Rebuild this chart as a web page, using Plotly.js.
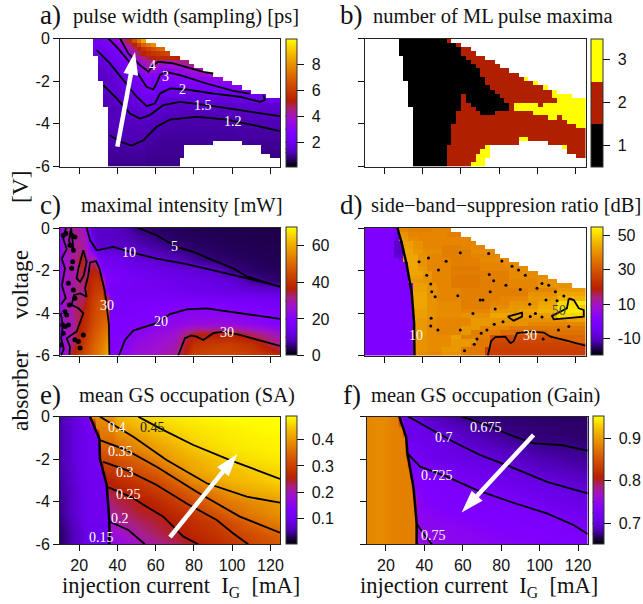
<!DOCTYPE html>
<html><head><meta charset="utf-8">
<script src="https://cdn.plot.ly/plotly-3.0.1.min.js"></script>
<style>html,body{margin:0;padding:0;background:#fff}</style></head>
<body><div id="chart" style="width:643px;height:604px"></div>
<script>
// ---------- shared tick labels ----------
const xTicks=[20,40,60,80,100,120];
const yTicks=[0,-2,-4,-6];
const yTickText=['0','-2','-4','-6'];

// ---------- panel a: pulse width, "value:endColumn" runs on the 46x30 simulation grid ----------
const aRows=[
"n:7 2.3:9 2.6:10 2.9:11 3.3:12 3.7:13 4.5:14 5.5:15 6.5:16 7.5:17 8.5:18 n:46",
"n:7 2.2:9 2.4:10 2.6:11 2.9:12 3.3:13 3.9:14 4.6:15 5.3:16 6.2:17 7:18 7.5:19 8:20 n:46",
"n:7 2:8 2.1:9 2.2:10 2.4:11 2.6:12 2.9:13 3.4:14 4:15 4.6:16 5.2:17 5.8:18 6.2:19 6.6:20 7:21 7.2:22 n:46",
"n:7 1.8:8 1.9:9 2:10 2.2:11 2.4:12 2.6:13 3:14 3.6:15 4.2:16 4.8:17 5.3:18 5.6:19 5.8:20 6:21 6.2:22 6.3:23 n:46",
"n:8 1.75:9 1.9:10 2:11 2.2:12 2.4:13 2.7:14 3.1:15 3.6:16 4.1:17 4.6:18 5:19 5.3:20 5.5:23 5.4:24 5.3:25 n:46",
"n:8 1.6:9 1.75:10 1.95:11 2.1:12 2.3:13 2.5:14 2.8:15 3.1:16 3.5:17 4:18 4.3:19 4.5:20 4.3:21 4.2:23 4.3:24 4.4:25 4.5:26 4.6:27 n:46",
"n:8 1.5:9 1.65:10 1.8:11 1.95:12 2.1:13 2.3:14 2.5:15 2.8:16 3.1:17 3.6:18 4.1:20 3.8:21 3.6:22 3.7:23 3.8:24 3.9:25 4:26 4.2:27 4.4:28 n:46",
"n:8 1.45:9 1.55:10 1.7:11 1.8:12 1.95:13 2.1:14 2.3:15 2.5:16 3:17 3.4:18 3.9:19 3.6:20 3.3:21 3.1:22 3.05:23 3.2:24 3.4:25 3.5:26 3.6:27 3.7:28 3.9:29 4.1:30 n:46",
"n:8 1.4:9 1.5:10 1.6:11 1.7:12 1.85:13 2:14 2.15:15 2.3:16 2.6:17 3:18 3.2:19 3:20 2.9:22 2.95:23 3:24 3.05:25 3.2:26 3.3:27 3.4:28 3.5:29 3.6:30 3.7:31 3.8:32 n:46",
"n:8 1.35:9 1.45:10 1.5:11 1.6:12 1.75:13 1.9:14 2.05:15 2.25:16 2.5:17 2.8:18 2.85:19 2.7:21 2.8:24 2.85:25 2.9:27 3.05:29 3.2:31 3.3:34 n:46",
"n:9 1.45:10 1.55:11 1.65:12 1.75:13 1.85:14 2:15 2.2:16 2.4:17 2.7:18 2.9:19 2.5:20 2.55:21 2.65:26 2.75:30 2.95:31 3.05:34 3.2:36 n:46",
"n:9 1.45:10 1.55:11 1.6:12 1.7:13 1.8:14 1.9:15 2.1:16 2.3:17 2.6:18 3:19 2.6:20 2.3:22 2.4:28 2.5:33 2.7:36 2.9:38 n:46",
"n:9 1.4:10 1.5:11 1.55:12 1.65:13 1.75:14 1.85:15 2:16 2.2:17 2.4:18 2.6:19 2.5:20 2.1:21 1.95:29 2.05:34 2.2:38 2.5:40 n:46",
"n:9 1.3:10 1.4:11 1.5:12 1.55:13 1.65:14 1.75:15 1.85:16 2:17 2.15:18 2.3:19 2.2:20 2:21 1.85:24 1.8:30 1.9:36 2:39 2.1:43 n:46",
"n:9 1.25:10 1.35:11 1.45:12 1.5:13 1.6:14 1.7:15 1.8:16 1.9:17 2.05:18 2.1:19 1.9:20 1.8:21 1.65:22 1.6:26 1.65:36 1.8:41 1.95:46",
"n:9 1.25:10 1.3:11 1.4:12 1.45:13 1.5:14 1.6:15 1.7:16 1.8:17 1.95:19 1.8:20 1.65:21 1.5:22 1.45:30 1.5:37 1.6:46",
"n:10 1.25:12 1.3:13 1.45:14 1.55:15 1.6:16 1.7:17 1.75:18 1.7:19 1.65:20 1.55:21 1.45:22 1.35:30 1.4:38 1.5:46",
"n:10 1.28:12 1.35:13 1.4:14 1.5:16 1.55:19 1.5:21 1.4:22 1.33:25 1.28:32 1.3:40 1.4:46",
"n:10 1.27:12 1.32:14 1.42:16 1.52:19 1.42:20 1.32:22 1.26:26 1.2:33 1.23:39 1.32:46",
"n:10 1.3:14 1.35:18 1.3:20 1.22:22 1.15:37 1.22:46",
"n:10 1.27:14 1.3:18 1.25:20 1.15:24 1.12:37 1.15:40 1.22:46",
"n:10 1.24:15 1.27:19 1.15:22 1.1:37 1.13:45 1.2:46",
"n:10 1.22:12 1.24:18 1.15:21 1.08:37 1.1:46",
"n:10 1.18:11 1.22:18 1.12:21 1.05:46",
"n:10 1.15:13 1.2:17 1.1:20 1.02:32 n:38 1:46",
"n:10 1.1:14 1.15:18 1.05:21 1:26 n:42 .98:46",
"n:10 1.06:14 1.08:18 1:26 n:42 .95:46",
"n:10 1.02:18 .98:26 n:44 .92:46",
"n:10 1:18 .95:25 n:46",
"n:10 .97:18 .92:25 n:46"];
const aC12=[[36.1,41.4,47.5,53.6,60.5,67.5,81.4,97.1,111,125],[-4.53,-4.84,-5.02,-4.77,-4.14,-3.8,-3.67,-3.8,-4.06,-4.34]];
const aC15=[[32.6,39.6,46.6,51.8,57,64,72.7,86.6,104,125],[-2.19,-2.81,-3.52,-3.75,-3.59,-3.12,-2.97,-3.12,-3.36,-3.64]];
const aC2=[[29.2,36.1,43.1,50.1,55.3,59.6,62.3,67.5,76.2,90.1,104,114.5,117.1,116.3],[-.55,-1.17,-1.95,-2.73,-3.17,-3.05,-2.58,-2.34,-2.39,-2.58,-2.73,-2.97,-2.89,-2.66]];
const aC3=[[35.3,39.6,44.8,50.1,55.3,58.8,60.5,62.3,64.9,72.7,86.6,100.5,109.2],[0,-.39,-.94,-1.56,-2.27,-2.39,-2.1,-1.72,-1.56,-1.72,-2.11,-2.45,-2.58]];
const aC4=[[41.4,45.7,51.8,56.2,58.8,61.4,69.2,77.9,84.9,90.1],[0,-.7,-1.25,-1.56,-1.25,-1.09,-1.17,-1.4,-1.56,-1.64]];

// ---------- panel b: number of maxima ----------
const bRows=[
"n:7 1:17 2:18 n:46","n:7 1:19 2:20 n:46","n:7 1:20 2:22 n:46","n:7 1:20 2:23 n:46","n:8 1:21 2:25 n:46",
"n:8 1:22 2:27 n:46","n:8 1:23 2:28 n:46","n:8 1:24 2:30 n:46","n:8 1:24 2:32 n:46","n:8 1:25 2:33 3:34 n:46",
"n:9 1:25 2:35 3:36 n:46","n:9 1:26 2:37 3:38 n:46","n:9 1:27 2:39 3:40 n:46","n:9 1:20 2:21 1:28 2:39 3:43 n:46",
"n:9 1:20 2:21 1:29 2:40 3:46","n:9 1:20 2:22 1:30 2:31 3:36 2:37 3:46","n:10 1:20 2:23 1:30 2:31 3:46",
"n:10 1:19 2:24 1:27 2:35 3:46","n:10 1:19 2:38 3:40 2:41 3:46","n:10 1:19 2:42 3:46","n:10 1:18 2:44 3:46",
"n:10 1:18 2:46","n:10 1:18 2:46","n:10 1:18 2:32 3:34 2:46","n:10 1:18 2:32 n:38 2:46",
"n:10 1:17 2:25 3:26 n:41 3:42 2:46","n:10 1:17 2:24 3:26 n:42 2:46","n:10 1:17 2:23 3:26 n:44 2:46",
"n:10 1:17 2:23 3:25 n:46","n:10 1:17 2:22 3:25 n:46"];

// ---------- panel c: maximal intensity ----------
const cX=[10,12,14,16,18,20,22,24,26,28,30,32,34,35,36,37,40,45,50,60,70,80,90,100,110,125];
const cY=[0,-.5,-1,-1.5,-2,-2.5,-3,-3.5,-4,-4.5,-5,-5.5,-6];
const cZ=[
[22,28,29,30,30,29,28,22,10.5,10,9.5,9.2,9,9,9,8.8,8.5,7.5,5.1,4.2,3.8,3.6,3.5,3.4,3.3,3.2],
[21,27,29,30,30,30,29,26,15,11,10,9.5,9.5,9.5,9.5,9.3,9,8.3,7.2,5.4,4.4,4,3.8,3.6,3.4,3.3],
[21,26,29,29,30,31,30,27,20,14,10.5,10.2,10,10,10,10,10,9.7,8.8,7.5,5.6,4.7,4.2,3.9,3.7,3.5],
[21,26,28,29,30,35,36,28,30,32,17,15.5,15,15,15,14.6,14,12.5,11.5,10.2,8.8,6.5,5,4.4,4,3.6],
[22,27,29,29,29,33,35,29,36,37,36,17.5,17,17,17,16.8,16.5,15.5,14.5,13,12,11,10.1,5.8,4.6,3.9],
[22,27,28,29,30,32,32,35,38,39,40,38,19,18.5,18.5,18,17.5,16.5,16,14.8,13.8,12.8,12,10.8,6.5,4.4],
[23,27,28,28,31,32,30,36,39,41,42,43,21,20,16,16,16,16,16,16,15,14,13.2,12.5,12,11.5],
[23,27,29,28,31,33,33,38,41,43,45,46,47,46,16.5,16.5,17,17,17.5,18,18,18,18,17.5,17,15],
[22,28,29,28,33,32,37,39,42,44,46,47,48,47,17,17,17,17.5,18,19,20.3,21,21,20.4,19.6,18.5],
[22,27,28,28,31,35,38,40,43,45,47,49,50,50,18.5,18.5,18.5,19,19.5,20,22.5,24,24.5,24.5,22,19],
[20,26,28,29,32,37,39,42,45,47,49,51,53,53,19,19,19,19.5,21.5,24,26.5,36,36,36.5,33,27],
[21,25,28,31,35,38,41,44,47,49,51,53,56,57,19,19,19.5,21,24,26,28.5,40,42,42,40,31],
[20,25,29,34,38,41,44,46,48,50,52,55,58,60,19,19,19.7,23,26,27.5,30,43,44,44,42,39]];
const cC5=[[50.9,60.5,71,79.7,90.1,100.6,107.5,118,125],[0,-.34,-.89,-1.125,-1.52,-1.9,-2.27,-2.58,-2.77]];
const cC10=[[24,25.7,29.2,30.9,37.9,48.3,60.5,76.2,91.9,107.5,125],[0,-.58,-1.05,-1.02,-.89,-1.17,-1.44,-1.7,-2.02,-2.36,-2.75]];
const cC20=[[40.8,44,48.3,60.5,67.5,76.2,86.6,104,125],[-6,-5.27,-4.83,-4.48,-4.05,-3.83,-3.78,-4.02,-4.28]];
const cC30a=[[71.8,75.3,78.8,81.4,84.9,90.1,95.4,104,116.3,125],[-6,-5.19,-5.06,-5.11,-5.27,-4.95,-4.88,-5.03,-5.34,-5.55]];
const cC30b=[[35.8,35.6,33.5,30.6,28.8,25.7,24.8,23.1,23.9,20.5,17.3,16.1,19.6,22.2,18.7,13.5,15.2,14.9],[-5.97,-4.56,-3,-1.9,-1.56,-1.62,-2.22,-2.84,-3.23,-3.08,-3.16,-3.62,-3.78,-4.01,-4.87,-5.19,-5.58,-5.97]];
const cC30c=[[19.6,22.2,23.9,22.5,20.5,18.7,19.6],[-1.9,-1.05,-1.59,-2.22,-2.53,-2.37,-1.9]];
const cC30d=[[13.1,11.7,13.5,10.9,12.6,11,13,10.5],[0,-.5,-1,-1.44,-1.9,-2.7,-3.3,-3.6]];
const cC30e=[[15.8,14.7,17.2,16.1,15.8],[0,-.6,-1.1,-.4,0]];
const cC30f=[[10.4,11.5,10.6,12,10.6],[-4,-4.6,-5.2,-5.7,-6]];
const cDotsX=[11.7,13.1,16.1,17.8,15.2,17,16.6,16.1,14.4,17,17.8,14.9,12.6,13.5,11.4,12.6,14.4,17.8,19.6,11.7,10.5,22.2,20.5];
const cDotsY=[-.34,-.26,-.34,-.42,-.81,-1.05,-1.59,-1.9,-2.6,-2.92,-3.31,-3.62,-3.94,-4.09,-4.56,-4.64,-4.56,-5.26,-5.34,-4.95,-5.5,-5.03,-5.65];

// ---------- panel d: side-band suppression, runs on the same grid ----------
const dRows=[
"0:6 -1:7 38:9 37:14 38:18 n:46",
"0:6 -4:7 40:9 38:13 38:17 37:20 n:46",
"0:6 -6:7 41:9 39:11 38:17 38:22 n:46",
"0:6 -9:8 42:10 40:12 38:15 38:20 38:23 n:46",
"0:6 -9:8 42:10 40:12 38:16 37:20 38:25 n:46",
"0:6 -10:8 43:10 41:12 39:16 37:22 39:27 n:46",
"0:6 -8:8 43:11 40:13 38:16 37:22 38:28 n:46",
"0:7 -5:8 43:11 40:13 38:18 37:24 39:30 n:46",
"0:9 43:11 40:13 38:18 37:24 38:29 39:32 n:46",
"0:9 43:11 41:13 38:18 36:24 38:30 39:34 n:46",
"0:9 43:12 41:14 38:18 37:24 37:30 39:36 n:46",
"0:9 42:12 40:14 38:18 36:24 37:30 39:38 n:46",
"0:9 41:12 40:14 38:18 36:24 37:30 38:36 40:40 n:46",
"0:10 42:13 40:15 38:18 36:24 37:30 38:36 40:43 n:46",
"0:10 42:13 40:15 38:20 37:28 37:34 38:40 41:46",
"0:10 43:13 40:15 38:20 37:28 37:34 40:40 43:46",
"0:10 43:13 40:15 38:20 37:28 38:34 41:40 45:46",
"0:10 43:13 40:15 39:20 37:26 38:30 40:36 43:40 50:44 52:46",
"0:10 43:13 40:15 39:20 37:26 39:30 41:36 44:40 51:45 48:46",
"0:10 42:13 40:15 39:20 38:26 41:32 43:36 45:40 52:45 50:46",
"0:10 42:13 40:15 39:20 40:26 43:32 42:36 42:40 50:45 46:46",
"0:10 41:13 39:15 38:22 41:30 40:36 40:42 42:46",
"0:10 41:13 39:15 38:22 41:26 40:34 38:40 38:46",
"0:10 41:13 39:15 38:20 41:24 38:30 36:40 36:46",
"0:10 41:13 39:15 38:20 41:22 37:28 34:31 33:38 35:46",
"0:10 40:13 39:18 42:20 37:26 28:39 33:46",
"0:10 40:13 39:18 41:23 36:26 27:42 33:46",
"0:10 40:13 39:18 41:22 36:26 26:46",
"0:10 40:13 39:16 41:20 36:25 25:46",
"0:10 39:13 38:16 40:20 36:25 25:46"];
const dEdge=[[26.9,29.2,31.8,34.4,35.6,35.8],[0,-.73,-1.75,-3.08,-4.48,-6]];
const dC30=[[74.1,75.7,77.9,83.2,85.8,87.5,89.3,96.2,103.2,106.7,113.7,120.6,125],[-6,-5.34,-5.14,-5.11,-5.42,-5.34,-4.95,-4.88,-4.92,-5.11,-5.27,-5.42,-5.53]];
const dC50a=[[116.3,118.9,121.5,124.1,124.1,115.3,108.4,107.5,111.9,115.3,116.3],[-3.31,-3.39,-3.78,-3.86,-4.17,-4.25,-4.3,-4.14,-3.94,-3.78,-3.31]];
const dC50b=[[84.4,91.9,91.9,87.5,84.4],[-4.17,-3.98,-4.17,-4.36,-4.17]];
const dDotsX=[38.2,43.1,52.3,48.3,42.2,44.3,44.8,46.6,44.5,44.3,58.4,70.1,71.5,75.3,77.1,83.5,91,81.4,74.5,59.7,86.7,90.1,93.6,102.3,105.8,99.7,109.3,113.7,110.2,104.4,95.9,77.9,98.9,96.2,102.3,82,77.4,73.6,70.6,68.4,67,61.9,48,59.7,110.9,116.3,102.9,66.3,74.8];
const dDotsY=[-1.59,-1.41,-1.56,-1.98,-2.22,-2.64,-3,-3.23,-4.25,-4.61,-3.19,-3.39,-3.39,-3,-2.48,-2.69,-2.89,-1.55,-1.2,-1.17,-1.8,-1.98,-2.22,-2.61,-2.69,-2.84,-3,-3.2,-3.42,-3.39,-3.59,-3.81,-4.02,-4.17,-4.19,-4.41,-4.53,-4.8,-4.95,-5.22,-5.47,-5.78,-4.8,-4.8,-4.8,-4.64,-5.22,-4.02,-2.19];

// ---------- panels e, f: value left of the lasing edge, edge position, value at/right of the edge ----------
const rowY=[0,-.5,-1,-1.5,-2,-2.5,-3,-3.5,-4,-4.5,-5,-5.5,-6];
const leftX=[10,15,20,25];
const denseX=[26,27,28,29,30,31,32,33,34,35,36,37];
const rightX=[40,45,50,60,70,80,90,100,110,125];
const eLeft=[[.05,.07,.09,.105],[.05,.07,.09,.105],[.05,.07,.09,.105],[.05,.07,.09,.105],[.05,.07,.09,.105],[.05,.065,.085,.1],[.045,.065,.085,.1],[.045,.06,.08,.1],[.04,.06,.08,.1],[.04,.06,.08,.1],[.035,.055,.075,.1],[.03,.05,.07,.095],[.03,.05,.07,.095]];
const eEdgeX=[26,28.5,30.5,30.8,31,32.5,34,35,35.3,35.6,35.8,35.8,35.8];
const eNear=[.39,.375,.36,.335,.31,.285,.26,.24,.225,.21,.195,.175,.155];
const eRight=[
[.43,.44,.45,.465,.475,.48,.485,.49,.49,.49],
[.40,.415,.43,.45,.46,.47,.475,.48,.485,.49],
[.38,.39,.40,.425,.445,.46,.47,.475,.48,.485],
[.345,.36,.38,.405,.425,.445,.46,.47,.475,.48],
[.32,.33,.34,.375,.41,.425,.44,.455,.465,.475],
[.29,.305,.32,.34,.38,.415,.43,.44,.45,.46],
[.27,.28,.29,.31,.345,.385,.41,.43,.44,.455],
[.25,.26,.27,.29,.315,.345,.375,.405,.42,.435],
[.235,.24,.25,.265,.29,.315,.35,.37,.385,.405],
[.22,.23,.24,.25,.27,.29,.32,.35,.37,.395],
[.205,.215,.225,.24,.255,.275,.29,.315,.345,.375],
[.18,.195,.21,.23,.245,.265,.28,.30,.315,.345],
[.165,.175,.19,.21,.228,.247,.265,.285,.305,.33]];
const eLine=[[25.7,30.6,30.9,34.4,35.8,35.8],[0,-1.05,-2,-3.2,-4.9,-6]];
const eC20=[[36.1,45.7,54.4],[-4.94,-5.33,-6]];
const eC25=[[35.3,47.5,55.3,64,74.5,82.3],[-3.32,-3.79,-4.23,-4.7,-5.64,-6]];
const eC30=[[32.6,44.8,60.5,76.2,91.9,100.6,108.4],[-2.12,-2.51,-3.21,-4.08,-4.86,-5.49,-6]];
const eC35=[[30.9,44.8,60.5,81.4,104,125],[-1.1,-1.57,-2.35,-3.53,-4.7,-5.45]];
const eC40=[[30.9,48.3,65.7,86.7,107.6,125],[0,-.94,-2.04,-3.13,-3.76,-4.04]];
const eC45=[[50.9,62.3,79.7,98.9,112.8,125],[0,-.55,-1.33,-2.04,-2.51,-2.93]];

const fLeft=rowY.map((_,i)=>[.884,.888,.886,.88]);
const fEdgeX=[27,29,30.5,31,31.8,32.7,33.7,34.6,35.2,35.6,36,36,36];
const fNear=[.705,.708,.71,.715,.722,.728,.732,.738,.742,.745,.748,.754,.756];
const fRight=[
[.692,.688,.684,.675,.673,.672,.671,.67,.67,.669],
[.702,.698,.693,.686,.678,.674,.673,.672,.671,.67],
[.706,.703,.701,.692,.685,.68,.674,.673,.672,.671],
[.712,.708,.705,.70,.693,.687,.683,.679,.677,.674],
[.716,.712,.708,.704,.702,.695,.69,.685,.682,.678],
[.726,.723,.72,.714,.709,.704,.699,.692,.688,.683],
[.73,.728,.727,.723,.716,.71,.706,.702,.697,.69],
[.732,.73,.728,.727,.725,.72,.714,.709,.705,.699],
[.735,.733,.73,.728,.727,.726,.722,.716,.71,.703],
[.74,.738,.735,.732,.73,.728,.727,.725,.72,.712],
[.744,.742,.74,.737,.734,.731,.729,.727,.726,.72],
[.75,.747,.744,.741,.738,.735,.733,.732,.729,.725],
[.752,.749,.747,.744,.741,.739,.737,.735,.733,.73]];
const fLine=[[27,30.5,31.2,34.3,36,36],[0,-.94,-1.72,-3.29,-5.02,-6]];
const fC675=[[59.5,72.5,84.7,96.9,110.8,125],[0,-.39,-.86,-1.25,-1.33,-1.6]];
const fC70=[[31.7,41.3,55.1,69,84.7,103.8,125],[0,-.47,-1.18,-1.8,-2.35,-3.06,-3.6]];
const fC725=[[31.2,37.8,51.7,67.3,84.7,103.8,117.6,125],[-1.72,-2.35,-2.82,-3.45,-4,-4.55,-5.09,-5.52]];
const fC75=[[36,39.5,43.9],[-5.02,-5.49,-6]];

// ---------- arrows: tail and tip in data units ----------
const aArrow=[[40,49.2],[-5.07,-.63]];
const eArrow=[[67.5,102.7],[-5.66,-1.75]];
const fArrow=[[96.8,59.4],[-.86,-4.5]];

// ---------- colours ----------
const palette=[[0,'#000000'],[.05,'#200050'],[.09,'#400098'],[.12,'#5500c0'],[.18,'#6a00e8'],[.27,'#8000ff'],[.38,'#a010d0'],[.45,'#a82080'],[.52,'#b82000'],[.68,'#d85a00'],[.8,'#e89000'],[.9,'#f5c000'],[1,'#ffff00']];
const bPalette=[[0,'#000000'],[1/3,'#000000'],[1/3,'#b02000'],[2/3,'#b02000'],[2/3,'#ffff00'],[1,'#ffff00']];

// ---------- helpers ----------
const W=643,H=604;
function runs(rows){return rows.map(r=>{const o=[];let c=0;r.split(' ').forEach(t=>{const [v,e]=t.split(':');while(c<+e){o.push(v==='n'?null:+v);c++;}});return o;});}
function assemble(left,edge,near,right){return rowY.map((_,i)=>[...left[i],...denseX.map(x=>x<edge[i]?left[i][3]:near[i]),...right[i]]);}

const geo={
 a:{n:'',x:[60,280],y:[38.5,166.5],cb:[285.5,296.5]},
 b:{n:'2',x:[365,585.5],y:[38.5,166.5],cb:[591,603]},
 c:{n:'3',x:[60,280],y:[228,355.5],cb:[285.5,296.5]},
 d:{n:'4',x:[365,585.5],y:[228,355.5],cb:[591,603]},
 e:{n:'5',x:[60,280],y:[416.7,544.3],cb:[285.5,296.5]},
 f:{n:'6',x:[366.7,587.7],y:[416.7,544.3],cb:[592.7,604]}
};
const tickFont={family:'Liberation Sans, Arial, sans-serif',size:16,color:'#111'};
const serif='Liberation Serif, Times New Roman, serif';
const layout={width:W,height:H,margin:{l:0,r:0,t:0,b:0},paper_bgcolor:'#fff',plot_bgcolor:'#fff',showlegend:false,annotations:[],shapes:[]};
const traces=[];

function heat(key,z,opt,range,tv,tt){
 const g=geo[key];
 traces.push(Object.assign({type:'heatmap',z,xaxis:'x'+g.n,yaxis:'y'+g.n,colorscale:palette,zmin:range[0],zmax:range[1],hoverinfo:'skip',
  colorbar:{x:g.cb[0]/W,xanchor:'left',xpad:0,y:(H-g.y[1])/H,yanchor:'bottom',ypad:0,len:(g.y[1]-g.y[0])/H,lenmode:'fraction',
   thickness:g.cb[1]-g.cb[0],thicknessmode:'pixels',outlinecolor:'#333',outlinewidth:1,ticks:'outside',ticklen:7,tickcolor:'#111',tickwidth:1,
   tickmode:'array',tickvals:tv,ticktext:tt.map(s=>'\u00a0'+s),tickfont:tickFont}},opt));
}
function axes(key,bottom,left){
 const g=geo[key];
 layout['xaxis'+g.n]={domain:[g.x[0]/W,g.x[1]/W],range:[10,125],anchor:'y'+g.n,tickmode:'array',tickvals:xTicks,ticktext:xTicks.map(String),showticklabels:bottom,
  ticks:'outside',ticklen:6,tickcolor:'#111',showline:true,mirror:true,linecolor:'#222',linewidth:1,showgrid:false,zeroline:false,tickfont:tickFont,fixedrange:true};
 layout['yaxis'+g.n]={domain:[(H-g.y[1])/H,(H-g.y[0])/H],range:[-6,0],anchor:'x'+g.n,tickmode:'array',tickvals:yTicks,ticktext:yTickText,showticklabels:left,
  ticks:'outside',ticklen:6,tickcolor:'#111',showline:true,mirror:true,linecolor:'#222',linewidth:1,showgrid:false,zeroline:false,tickfont:tickFont,fixedrange:true};
}
function line(key,d,w){const g=geo[key];traces.push({type:'scatter',mode:'lines',x:d[0],y:d[1],xaxis:'x'+g.n,yaxis:'y'+g.n,line:{color:'#000',width:w||1.8},hoverinfo:'skip'});}
function dots(key,x,y,s){const g=geo[key];traces.push({type:'scatter',mode:'markers',x,y,xaxis:'x'+g.n,yaxis:'y'+g.n,marker:{color:'#000',size:s},hoverinfo:'skip'});}
function label(key,t,x,y,c){const g=geo[key];layout.annotations.push({xref:'x'+g.n,yref:'y'+g.n,x,y,text:t,showarrow:false,font:{family:serif,size:14,color:c||'#fff'},xanchor:'center',yanchor:'middle'});}
function arrow(key,d){const g=geo[key];
 const neck=[d[0][0]+.82*(d[0][1]-d[0][0]),d[1][0]+.82*(d[1][1]-d[1][0])];
 traces.push({type:'scatter',mode:'lines',x:[d[0][0],neck[0]],y:[d[1][0],neck[1]],xaxis:'x'+g.n,yaxis:'y'+g.n,line:{color:'#fff',width:4.5},hoverinfo:'skip'});
 traces.push({type:'scatter',mode:'markers',x:[neck[0],d[0][1]],y:[neck[1],d[1][1]],xaxis:'x'+g.n,yaxis:'y'+g.n,marker:{symbol:'arrow',angleref:'previous',size:[0,24],opacity:1,color:'#fff',line:{width:0}},hoverinfo:'skip'});
}
function title(px,py,t,size,anchor){layout.annotations.push({xref:'paper',yref:'paper',x:px/W,y:(H-py)/H,text:t,showarrow:false,font:{family:serif,size,color:'#111'},xanchor:anchor||'left',yanchor:'middle',xshift:0});}
function barLines(key,levels,range){const g=geo[key];levels.forEach(v=>{const f=(v-range[0])/(range[1]-range[0]);const py=g.y[1]-f*(g.y[1]-g.y[0]);
 layout.shapes.push({type:'line',xref:'paper',yref:'paper',x0:g.cb[0]/W,x1:g.cb[1]/W,y0:(H-py)/H,y1:(H-py)/H,line:{color:'#000',width:1}});});}

// ---------- build ----------
const grid={x0:11.25,dx:2.5,y0:-.1,dy:-.2,zsmooth:false};
const rA=[.13,10],rB=[.5,3.5],rC=[0,70],rD=[-19.7,54.6],rE=[0,.49],rF=[.651,.951];
heat('a',runs(aRows),grid,rA,[2,4,6,8],['2','4','6','8']);
heat('b',runs(bRows),Object.assign({colorscale:bPalette},grid),rB,[1,2,3],['1','2','3']);
heat('c',cZ,{x:cX,y:cY,zsmooth:'best'},rC,[0,20,40,60],['0','20','40','60']);
heat('d',runs(dRows),grid,rD,[-10,10,30,50],['-10','10','30','50']);
const colX=[...leftX,...denseX,...rightX];
heat('e',assemble(eLeft,eEdgeX,eNear,eRight),{x:colX,y:rowY,zsmooth:'best'},rE,[.1,.2,.3,.4],['0.1','0.2','0.3','0.4']);
heat('f',assemble(fLeft,fEdgeX,fNear,fRight),{x:colX,y:rowY,zsmooth:'best'},rF,[.7,.8,.9],['0.7','0.8','0.9']);

axes('a',false,true);axes('b',false,false);axes('c',false,true);axes('d',false,false);axes('e',true,true);axes('f',true,false);

[aC12,aC15,aC2,aC3,aC4].forEach(d=>line('a',d));
[cC5,cC10,cC20,cC30a,cC30b,cC30c,cC30d,cC30e,cC30f].forEach(d=>line('c',d));
dots('c',cDotsX,cDotsY,5);
line('d',dEdge,2.5);[dC30,dC50a,dC50b].forEach(d=>line('d',d));
dots('d',dDotsX,dDotsY,3);
line('e',eLine,2.5);[eC20,eC25,eC30,eC35,eC40,eC45].forEach(d=>line('e',d));
line('f',fLine,2.5);[fC675,fC70,fC725,fC75].forEach(d=>line('f',d));

label('a','4',58.3,-1.25);label('a','3',65.4,-1.77);label('a','2',73.9,-2.39);label('a','1.5',84.9,-3.16);label('a','1.2',100.6,-3.9);
label('c','10',46.2,-1.13);label('c','5',69.6,-.86);label('c','30',34.7,-3.66);label('c','20',63,-4.41);label('c','30',97.1,-4.92);
label('d','10',36.7,-5.06);label('d','30',95.9,-5.06);label('d','50',111,-3.86,'#444');
label('e','0.4',39.6,-.52);label('e','0.45',58.4,-.52,'#222');label('e','0.35',41.4,-1.65);label('e','0.3',44,-2.63);label('e','0.25',45.7,-3.68);label('e','0.2',41.4,-4.78);label('e','0.15',31.6,-5.69);
label('f','0.675',72,-.52);label('f','0.7',50.3,-.97);label('f','0.725',46.8,-2.77);label('f','0.75',45,-5.6);

arrow('a',aArrow);arrow('e',eArrow);arrow('f',fArrow);

barLines('a',[1.2,1.5,2,3,4],rA);barLines('c',[5,10,20,30],rC);barLines('d',[10,30,50],rD);barLines('f',[.675,.7,.725,.75],rF);

const T=20.5,L=27;
title(38,15,'a)',L);title(71,17,'pulse width (sampling) [ps]',T);
title(338,15,'b)',L);title(371,17,'number of ML pulse maxima',T);
title(38,205,'c)',L);title(79,206,'maximal intensity [mW]',T);
title(338,205,'d)',L);title(369,206,'side\u2212band\u2212suppresion ratio [dB]',T);
title(38,395,'e)',L);title(77,395,'mean GS occupation (SA)',T);
title(341,395,'f)',L);title(369,395,'mean GS occupation (Gain)',T);
title(60,587,'injection current\u00a0\u00a0I<sub>G</sub>\u00a0\u00a0[mA]',22.5);
title(358,587,'injection current\u00a0\u00a0I<sub>G</sub>\u00a0\u00a0[mA]',22.5);
[['[V]',187],['voltage',285],['absorber',391]].forEach(s=>{layout.annotations.push({xref:'paper',yref:'paper',x:20/W,y:(H-s[1])/H,text:s[0],textangle:-90,showarrow:false,font:{family:serif,size:23.5,color:'#111'},xanchor:'center',yanchor:'middle'});});

Plotly.newPlot('chart',traces,layout,{displayModeBar:false,staticPlot:true});
</script></body></html>
